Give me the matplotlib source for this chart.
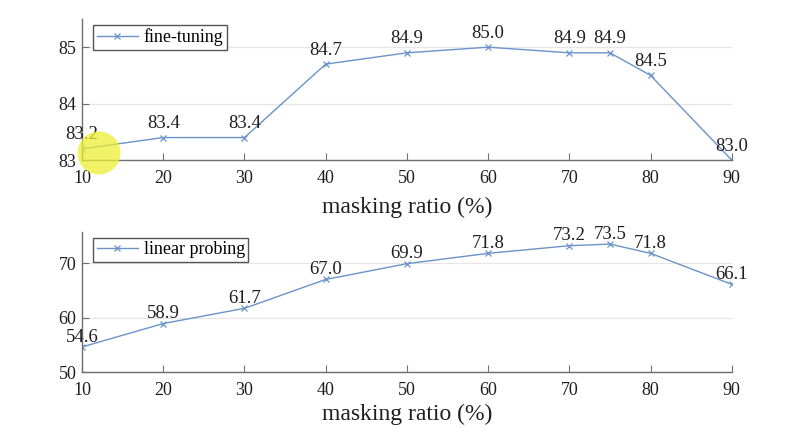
import numpy as np
import matplotlib
matplotlib.use('Agg')
import matplotlib.pyplot as plt
from matplotlib.patches import Ellipse

plt.rcParams['font.family'] = ['Liberation Serif', 'DejaVu Serif']

# masking ratios
ratio = [10, 20, 30, 40, 50, 60, 70, 75, 80, 90]
fine_tuning = [83.2, 83.4, 83.4, 84.7, 84.9, 85.0, 84.9, 84.9, 84.5, 83.0]
linear_probing = [54.6, 58.9, 61.7, 67.0, 69.9, 71.8, 73.2, 73.5, 71.8, 66.1]
x_ticks = [10, 20, 30, 40, 50, 60, 70, 80, 90]

line_c = '#6a93c8'
spine_c = '#6e6e6e'
txt_c = '#1e1e1e'

fig = plt.figure(figsize=(7.92, 4.40), dpi=100)
ax1 = fig.add_axes([0.1035, 0.636, 0.8205, 0.321])
ax2 = fig.add_axes([0.1035, 0.1545, 0.8205, 0.318])


def style(ax, y, label, ylim, yticks, off, lpad):
    ax.plot(ratio, y, color=line_c, lw=1.0, marker='x', ms=5, mew=0.9,
            label=label)
    for xv, yv in zip(ratio, y):
        ax.annotate('%.1f' % yv, (xv, yv), xytext=(0, off),
                    textcoords='offset points', ha='center', va='bottom',
                    fontsize=13.5, color=txt_c)
    ax.set_xlim(10, 90)
    ax.set_ylim(*ylim)
    ax.set_xticks(x_ticks)
    ax.set_yticks(yticks)
    ax.tick_params(direction='in', length=5, color=spine_c, labelsize=13,
                   labelcolor=txt_c)
    ax.tick_params(axis='x', pad=7)
    ax.tick_params(axis='y', pad=4)
    ax.grid(axis='y', color='#e6e6e6', lw=0.9)
    ax.set_axisbelow(True)
    for s in ['top', 'right']:
        ax.spines[s].set_visible(False)
    for s in ['left', 'bottom']:
        ax.spines[s].set_color(spine_c)
        ax.spines[s].set_linewidth(1.0)
    ax.set_xlabel('masking ratio (%)', fontsize=17, color=txt_c, labelpad=lpad)
    leg = ax.legend(loc='upper left', fontsize=13, fancybox=False,
                    edgecolor='#555555', framealpha=1, handlelength=2.3,
                    handletextpad=0.3, borderpad=0.2, borderaxespad=0,
                    bbox_to_anchor=(0.017, 0.96))
    leg.get_frame().set_linewidth(1.0)


style(ax1, fine_tuning, 'fine-tuning', (83, 85.5), [83, 84, 85], 4, 7)
style(ax2, linear_probing, 'linear probing', (50, 75.7), [50, 60, 70], 1, 4)

# yellow cursor highlight from the source
fig.patches.append(Ellipse((99 / 792, 1 - 153 / 440), 43 / 792, 43 / 440,
                           transform=fig.transFigure, color='#eeee33',
                           alpha=0.75, lw=0))

fig.savefig('out.png', dpi=100)
